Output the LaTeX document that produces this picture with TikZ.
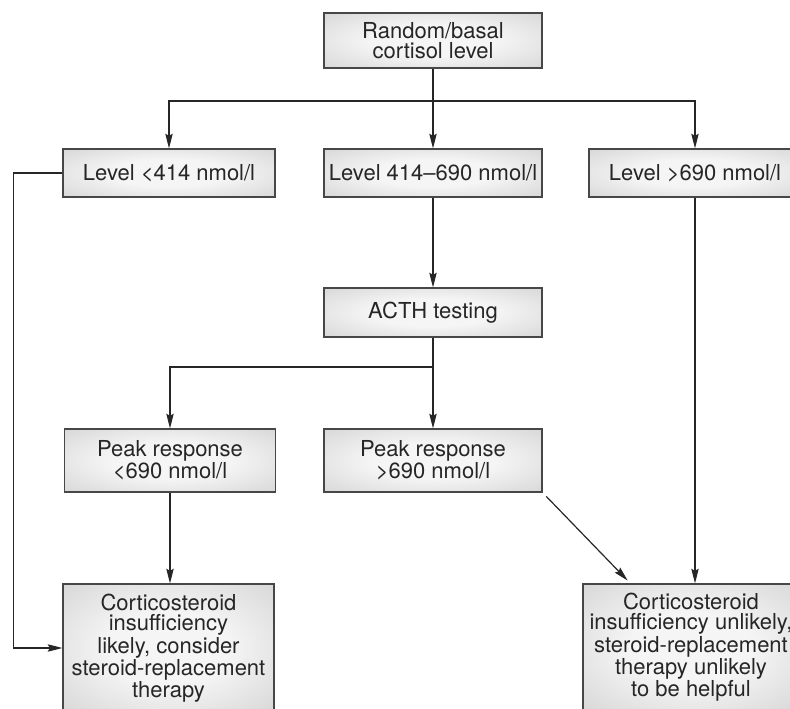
\documentclass[tikz,border=0pt]{standalone}
\usepackage{fontspec}
\setmainfont{TeX Gyre Heros}
\usetikzlibrary{arrows.meta}
\definecolor{glowin}{HTML}{F5F5F5}
\definecolor{glowout}{HTML}{C4C4C4}
\definecolor{ink}{HTML}{262626}
\pgfdeclareradialshading{glow}{\pgfpoint{0bp}{0bp}}{color(0bp)=(glowin); color(14bp)=(glowin); color(50bp)=(glowout); color(75bp)=(glowout)}

\begin{document}
\begin{tikzpicture}[x=0.75pt,y=-0.75pt,color=ink,line width=0.9pt,
  box/.style={draw=ink!85,line width=0.8pt,shading=glow,align=center,inner sep=0pt,
    font=\fontsize{16.5}{15.5}\selectfont},
  >={Stealth[length=11pt,width=5.5pt,inset=1.5pt]}]
  \useasboundingbox (0,0) rectangle (790,709);
  \clip (0,0) rectangle (790,709);

  \node (rand) at (433,40.5) [box,minimum width=163.5pt,minimum height=41.25pt]{Random/basal\\cortisol level};

  \node (lo) at (169,173) [box,minimum width=159pt,minimum height=36pt]{Level <414 nmol/l};
  \node (mid) at (433,173) [box,minimum width=163.5pt,minimum height=36pt]{Level 414--690 nmol/l};
  \node (hi) at (695,173) [box,minimum width=159pt,minimum height=36pt]{Level >690 nmol/l};

  \node (acth) at (433,312.5) [box,minimum width=163.5pt,minimum height=36.75pt]{ACTH testing};

  \node (prlo) at (170,460.5) [box,minimum width=158.25pt,minimum height=47.25pt]{Peak response\\<690 nmol/l};
  \node (prhi) at (433,460.5) [box,minimum width=163.5pt,minimum height=47.25pt]{Peak response\\>690 nmol/l};

  \node (fin1) at (168.5,648) [box,minimum width=158.25pt,minimum height=96pt]{Corticosteroid\\insufficiency\\likely, consider\\steroid-replacement\\therapy};
  \node (fin2) at (691,647) [box,minimum width=162pt,minimum height=94.5pt]{Corticosteroid\\insufficiency unlikely,\\steroid-replacement\\therapy unlikely\\to be helpful};

  \coordinate (split) at (433,101);
  \coordinate (split2) at (433,367);


  \draw (rand) -- (split);
  \draw[->] (split) -| (lo);
  \draw[->] (split) -- (mid);
  \draw[->] (split) -| (hi);

  \draw[->] (mid) -- (acth);
  \draw (acth) -- (split2);
  \draw[->] (split2) -| (prlo);
  \draw[->] (split2) -- (prhi);

  \draw[->] (prlo) -- (prlo |- fin1.north);
  \draw[->] (lo.west) -- ++(-49,0) |- (fin1);

  \draw[->] (hi) -- (hi |- fin2.north);
  \draw[->,shorten <=4pt,shorten >=3pt] (prhi.south east) -- ([shift={(48,0)}]fin2.north west);

\end{tikzpicture}
\end{document}
